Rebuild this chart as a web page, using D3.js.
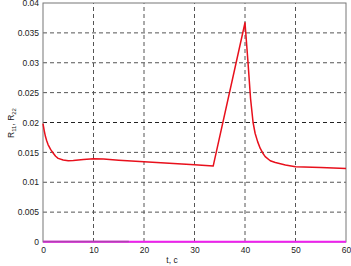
<!DOCTYPE html>
<html>
<head>
<meta charset="utf-8">
<script src="https://cdn.jsdelivr.net/npm/d3@7"></script>
<style>
  body { margin: 0; background: #fff; }
  svg { display: block; font-family: "Liberation Sans", Arial, sans-serif; }
</style>
</head>
<body>
<div id="chart"></div>
<script>
// R11 curve (red)
const tR = [0, 0.25, 0.5, 0.75, 1, 1.5, 2, 2.5, 3, 4, 5, 6, 8, 10, 12, 15, 20, 25, 30, 33.7, 40, 40.6, 41.1, 41.6, 42, 42.5, 43, 43.5, 44, 45, 46, 47, 48, 50, 55, 60];
const vR = [0.0198, 0.0186, 0.0176, 0.0169, 0.0163, 0.0155, 0.0149, 0.01435, 0.0140, 0.01373, 0.0136, 0.01365, 0.0138, 0.01395, 0.0139, 0.0137, 0.01345, 0.0132, 0.01294, 0.0127, 0.0367, 0.0300, 0.0240, 0.0200, 0.0182, 0.0168, 0.0157, 0.0149, 0.0143, 0.0136, 0.0133, 0.0131, 0.0129, 0.0126, 0.01245, 0.0123];
// R22 near zero
const tP = [0, 60];
const vP = [0.00005, 0.00005];
const tP2 = [0, 17];
const vP2 = [0.0001, 0.0001];

const xTicks = [0, 10, 20, 30, 40, 50, 60];
const yTicks = [0, 0.005, 0.01, 0.015, 0.02, 0.025, 0.03, 0.035, 0.04];

const W = 351, H = 266;
const margin = {top: 3, right: 5, bottom: 24, left: 43};

const svg = d3.select("#chart").append("svg")
    .attr("width", W).attr("height", H);

const x = d3.scaleLinear().domain([0, 60]).range([margin.left, W - margin.right]);
const y = d3.scaleLinear().domain([0, 0.04]).range([H - margin.bottom, margin.top]);

// grid
svg.append("g").selectAll("line").data(xTicks.slice(1, -1)).enter().append("line")
    .attr("x1", d => x(d)).attr("x2", d => x(d))
    .attr("y1", y(0)).attr("y2", y(0.04))
    .attr("stroke", "#555").attr("stroke-dasharray", "4,3");
svg.append("g").selectAll("line").data(yTicks.slice(1, -1)).enter().append("line")
    .attr("x1", x(0)).attr("x2", x(60))
    .attr("y1", d => y(d)).attr("y2", d => y(d))
    .attr("stroke", d => d === 0.02 ? "#222" : "#555").attr("stroke-dasharray", "4,3");

// axes
const fmt = d => d === 0 ? "0" : String(+d.toFixed(3));
svg.append("g")
    .attr("transform", `translate(0,${y(0)})`)
    .call(d3.axisBottom(x).tickValues(xTicks).tickSize(0).tickPadding(5))
    .call(g => g.select(".domain").remove());
svg.append("g")
    .attr("transform", `translate(${x(0)},0)`)
    .call(d3.axisLeft(y).tickValues(yTicks).tickFormat(fmt).tickSize(0).tickPadding(4))
    .call(g => g.select(".domain").remove());
svg.selectAll(".tick text").attr("font-size", 8.5).attr("fill", "#222")
    .attr("font-family", "Liberation Sans, Arial, sans-serif");

// frame
svg.append("rect")
    .attr("x", x(0)).attr("y", y(0.04))
    .attr("width", x(60) - x(0)).attr("height", y(0) - y(0.04))
    .attr("fill", "none").attr("stroke", "#777").attr("stroke-width", 1);

const line = d3.line().x(d => x(d[0])).y(d => y(d[1]));

svg.append("path").datum(d3.zip(tP, vP)).attr("d", line)
    .attr("fill", "none").attr("stroke", "#f020f0").attr("stroke-width", 2);
svg.append("path").datum(d3.zip(tP2, vP2)).attr("d", line)
    .attr("fill", "none").attr("stroke", "#b040b0").attr("stroke-width", 1.5);
svg.append("path").datum(d3.zip(tR, vR)).attr("d", line)
    .attr("fill", "none").attr("stroke", "#e8101c").attr("stroke-width", 1.5)
    .attr("stroke-linejoin", "round");

// labels
svg.append("text").attr("x", 172).attr("y", 263).attr("text-anchor", "middle")
    .attr("font-size", 8.5).attr("fill", "#222").text("t, c");

const yl = svg.append("text").attr("transform", "translate(14,123) rotate(-90)")
    .attr("text-anchor", "middle").attr("font-size", 8.5).attr("fill", "#222");
yl.append("tspan").text("R");
yl.append("tspan").attr("font-size", 6).attr("dy", 2).text("11");
yl.append("tspan").attr("dy", -2).text(", R");
yl.append("tspan").attr("font-size", 6).attr("dy", 2).text("22");
</script>
</body>
</html>
